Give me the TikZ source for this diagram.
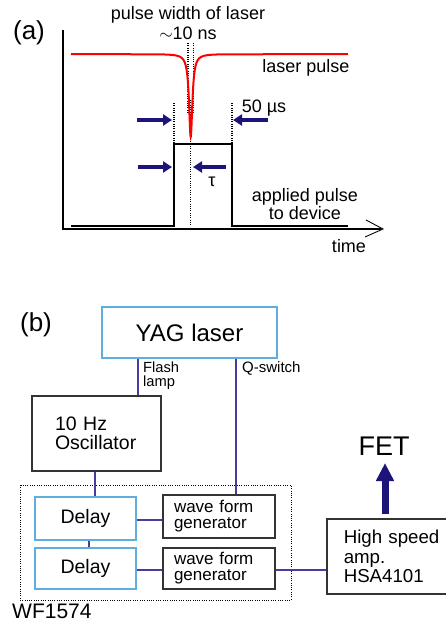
\documentclass[tikz,border=0pt]{standalone}
\usepackage{fontspec}
\setmainfont{Liberation Sans}
\usetikzlibrary{arrows.meta}
\definecolor{navy}{HTML}{1C1478}
\definecolor{wirec}{HTML}{4A3C9E}
\definecolor{lblue}{HTML}{5FAEDC}
\definecolor{boxk}{HTML}{333333}
\newcommand{\fsz}[2]{\fontsize{#1}{#2}\selectfont}
\begin{document}
\begin{tikzpicture}[x=1pt,y=-1pt,
  lab/.style={inner sep=0pt, font=\fsz{18}{18}},
  bigarrow/.style={navy, line width=4pt, -{Triangle[length=9pt,width=11pt]}},
  dotline/.style={line width=1.1pt, dash pattern=on 1pt off 1.3pt},
  sig/.style={line width=2pt},
  bluebox/.style={draw=lblue, line width=1.5pt, inner sep=0pt},
  blkbox/.style={draw=boxk, line width=1.5pt, inner sep=0pt},
  wire/.style={draw=wirec, line width=1.3pt}]
\useasboundingbox (0,0) rectangle (446,622);
\fill[white] (0,0) rectangle (446,622);

% ---------------- (a) ----------------
\node[inner sep=0pt, font=\fsz{26}{26}] (lbla) at (29,33) {(a)};
% axes
\draw[sig] (63,30) -- (63,229) -- (381,229);
\draw[line width=0.9pt] (366,220) -- (383,229) -- (365,237);
% dotted guide lines
\draw[dotline] (188,43) -- (188,113);
\draw[dotline] (193.5,43) -- (193.5,113);
\draw[dotline] (190.7,100) -- (190.7,226);
\draw[dotline] (174,103) -- (174,144);
\draw[dotline] (232,103) -- (232,144);
% applied pulse
\draw[sig] (71,226) -- (174,226) -- (174,144) -- (232,144) -- (232,226) -- (348,226);
% laser pulse
\draw[red, line width=2pt] (71,54) -- (160.7,54.37)
  plot[domain=-30:30, samples=301] ({190.7+\x},{54+332/(\x*\x+4)})
  -- (348,54);
% arrows
\coordinate (a1s) at (137,120); \coordinate (a1e) at (172,120);
\coordinate (a2s) at (268,120); \coordinate (a2e) at (233,120);
\coordinate (a3s) at (138,167); \coordinate (a3e) at (172,167);
\coordinate (a4s) at (226,167); \coordinate (a4e) at (193,167);
\draw[bigarrow] (a1s) -- (a1e);
\draw[bigarrow] (a2s) -- (a2e);
\draw[bigarrow] (a3s) -- (a3e);
\draw[bigarrow] (a4s) -- (a4e);
% labels
\node[lab] (pw) at (188,15) {pulse width of laser};
\node[lab] (tn) at (188,33) {$\sim$10 ns};
\node[lab] (lp) at (306,68) {laser pulse};
\node[lab] (fifty) at (264,108) {50 µs};
\node[lab] (tau) at (212,182) {τ};
\node[lab, align=center] (ap) at (305,204) {applied pulse\\to device};
\node[lab] (time) at (349,246) {time};

% ---------------- (b) ----------------
\node[inner sep=0pt, font=\fsz{26}{26}] (lblb) at (36,325) {(b)};
\draw[dotline, line width=1pt] (20,485) rectangle (291,600);
\node[bluebox, minimum width=175pt, minimum height=51pt, font=\fsz{24}{24}] (yag) at (189.5,332.5) {YAG laser};
\node[blkbox, minimum height=75pt, text width=83pt, inner xsep=23pt, align=left, font=\fsz{19.5}{19.5}] (osc) at (96.5,433.5) {10 Hz\\Oscillator};
\node[bluebox, minimum width=101pt, minimum height=43pt, font=\fsz{19.5}{19.5}] (d1) at (85.5,518.5) {Delay};
\node[bluebox, minimum width=101pt, minimum height=41pt, font=\fsz{19.5}{19.5}] (d2) at (85.5,568.5) {Delay};
\node[blkbox, minimum height=43pt, text width=90pt, inner xsep=11pt, align=left, font=\fsz{17}{16}] (w1) at (219,516.5) {wave form\\generator};
\node[blkbox, minimum height=41pt, text width=90pt, inner xsep=11pt, align=left, font=\fsz{17}{16}] (w2) at (219,568.5) {wave form\\generator};
\node[blkbox, minimum height=75pt, text width=100pt, inner xsep=17pt, align=left, font=\fsz{18.7}{19.5}, anchor=west] (hsa) at (326,556.5) {High speed\\amp.\\HSA4101};
% wires
\coordinate (xfl) at (138,0);
\coordinate (xqs) at (236,0);
\coordinate (xod) at (95,0);
\coordinate (xdd) at (89,0);
\coordinate (y1) at (0,520);
\coordinate (y2) at (0,570);
\draw[wire] (yag.south -| xfl) -- (osc.north -| xfl);
\draw[wire] (yag.south -| xqs) -- (w1.north -| xqs);
\draw[wire] (osc.south -| xod) -- (d1.north -| xod);
\draw[wire] (d1.south -| xdd) -- (d2.north -| xdd);
\draw[wire] (d1.east |- y1) -- (w1.west |- y1);
\draw[wire] (d2.east |- y2) -- (w2.west |- y2);
\draw[wire] (w2.east |- y2) -- (hsa.west |- y2);
% labels
\node[inner sep=0pt, anchor=west, align=left, font=\fsz{14.7}{14}] (flash) at (143,376) {Flash\\lamp};
\node[inner sep=0pt, anchor=west, font=\fsz{15}{15}] (qs) at (242,368) {Q-switch};
\node[inner sep=0pt, font=\fsz{27}{27}] (fet) at (384,446) {FET};
\node[inner sep=0pt, anchor=base west, font=\fsz{21}{21}] (wf) at (12,618) {WF1574};
\coordinate (fetbase) at (385,514);
\coordinate (fettip) at (385,463);
\draw[navy, line width=7pt, -{Triangle[length=18pt,width=17pt]}] (fetbase) -- (fettip);
\end{tikzpicture}
\end{document}
